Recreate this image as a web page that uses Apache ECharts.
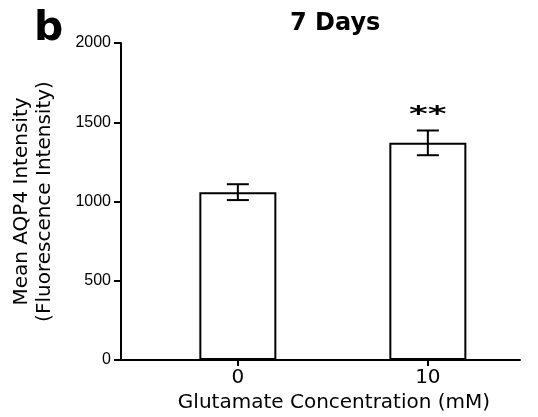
<!DOCTYPE html>
<html>
<head>
<meta charset="utf-8">
<script src="https://cdn.jsdelivr.net/npm/echarts@6/dist/echarts.min.js"></script>
<style>html,body{margin:0;padding:0;background:#fff}#c{width:538px;height:417px}</style>
</head>
<body>
<div id="c"></div>
<script>
var categories = [0, 10];
var means = [1059, 1370];
var errors = [50, 78];
var significance = ['', '**'];
var yTicks = [0, 500, 1000, 1500, 2000];

var chart = echarts.init(document.getElementById('c'), null, {renderer: 'canvas'});
var barData = categories.map(function (c, i) { return [c, means[i]]; });
var errData = categories.map(function (c, i) { return [c, means[i] - errors[i], means[i] + errors[i], i]; });

var option = {
  animation: false,
  backgroundColor: '#fff',
  title: {
    text: '7 Days', left: 285, top: 7,
    textStyle: {fontFamily: 'DejaVu Sans', fontWeight: 'bold', fontSize: 24, color: '#000'}
  },
  graphic: [{
    type: 'text', left: 34, top: 9,
    style: {text: 'b', font: 'bold 41px "DejaVu Sans"', fill: '#000'}
  }],
  grid: {left: 121, right: 18, top: 43, bottom: 57, containLabel: false, outerBoundsMode: 'none'},
  xAxis: {
    type: 'value', min: -6.15, max: 14.85,
    name: 'Glutamate Concentration (mM)', nameLocation: 'middle', nameGap: 30,
    nameTextStyle: {fontFamily: 'DejaVu Sans', fontSize: 20, color: '#000', padding: [0, 0, 0, 27]},
    axisLine: {show: true, onZero: false, lineStyle: {color: '#000', width: 2}},
    axisTick: {show: true, customValues: categories, length: 6, lineStyle: {color: '#000', width: 2}},
    axisLabel: {customValues: categories, fontFamily: 'DejaVu Sans', fontSize: 20, color: '#000', margin: 8},
    splitLine: {show: false}
  },
  yAxis: {
    type: 'value', min: 0, max: 2000, interval: 500,
    name: 'Mean AQP4 Intensity\n(Fluorescence Intensity)', nameLocation: 'middle', nameGap: 65,
    nameTextStyle: {fontFamily: 'DejaVu Sans', fontSize: 20, color: '#000', lineHeight: 23},
    axisLine: {show: true, onZero: false, lineStyle: {color: '#000', width: 2}},
    axisTick: {show: true, length: 7, lineStyle: {color: '#000', width: 2}},
    axisLabel: {fontFamily: 'Liberation Sans', fontSize: 16, color: '#000', margin: 10,
      formatter: function (v) { return String(v); }},
    splitLine: {show: false}
  },
  series: [{
    type: 'bar', data: barData, barWidth: 77,
    itemStyle: {color: '#fff', borderColor: '#000', borderWidth: 2}
  }, {
    type: 'custom', data: errData, z: 10,
    renderItem: function (params, api) {
      var x = api.value(0);
      var lo = api.coord([x, api.value(1)]);
      var hi = api.coord([x, api.value(2)]);
      var idx = api.value(3);
      var hw = 11;
      var st = {stroke: '#000', lineWidth: 2};
      var children = [
        {type: 'line', shape: {x1: lo[0], y1: lo[1], x2: hi[0], y2: hi[1]}, style: st},
        {type: 'line', shape: {x1: lo[0] - hw, y1: lo[1], x2: lo[0] + hw, y2: lo[1]}, style: st},
        {type: 'line', shape: {x1: hi[0] - hw, y1: hi[1], x2: hi[0] + hw, y2: hi[1]}, style: st}
      ];
      if (significance[idx]) {
        children.push({type: 'text', x: hi[0], y: hi[1] - 4, scaleY: 0.6,
          style: {text: significance[idx], font: 'bold 36px "DejaVu Sans"', fill: '#000', align: 'center', verticalAlign: 'bottom'}});
      }
      return {type: 'group', children: children};
    }
  }]
};
chart.setOption(option);
</script>
</body>
</html>
